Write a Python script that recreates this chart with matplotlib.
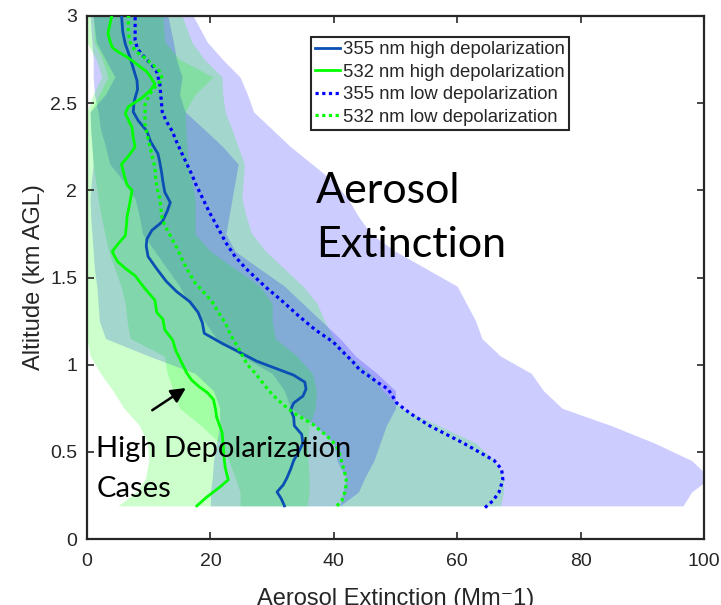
import numpy as np
import matplotlib.pyplot as plt

# altitude grid (km AGL) shared by the shaded ranges
alt_band = [0.19, 0.27, 0.35, 0.45, 0.55, 0.65, 0.75, 0.85, 0.95, 1.05, 1.15, 1.25, 1.35, 1.45,
            1.55, 1.65, 1.75, 1.85, 1.95, 2.05, 2.15, 2.25, 2.35, 2.45, 2.55, 2.65, 2.75, 2.85, 3.0]

# 355 nm low depolarization range
lo355_left = [41.0, 41.5, 42.0, 40.5, 40.0, 37.0, 33.0, 32.0, 30.0, 25.0, 21.0, 19.0, 16.5, 15.0,
              13.0, 11.0, 9.0, 8.5, 7.8, 6.0, 3.7, 3.0, 2.2, 1.8, 1.2, 1.0, 1.0, 0.8, 0.5]
lo355_right = [96.6, 98.0, 101.0, 98.0, 92.0, 85.0, 77.0, 74.0, 72.0, 67.0, 64.0, 63.0, 61.5, 60.0,
               55.0, 50.0, 46.0, 44.0, 42.3, 40.0, 36.5, 33.0, 30.0, 27.0, 26.0, 24.8, 22.0, 19.5, 17.2]
# 532 nm low depolarization range
lo532_left = [24.8, 24.8, 24.0, 23.0, 21.5, 18.5, 15.0, 14.0, 13.0, 12.5, 7.0, 6.5, 6.2, 5.5,
              4.5, 3.5, 2.9, 2.3, 1.8, 1.4, 1.0, 0.8, 0.6, 0.5, 2.0, 3.4, 2.5, 1.2, 1.0]
lo532_right = [67.0, 67.5, 67.5, 66.0, 63.0, 57.0, 51.0, 48.0, 46.0, 42.5, 40.0, 38.5, 37.3, 35.0,
               32.0, 29.0, 26.7, 25.8, 25.1, 25.3, 25.5, 24.5, 23.5, 22.4, 22.0, 21.9, 19.0, 17.0, 15.4]
# 355 nm high depolarization range
hi355_left = [20.0, 20.0, 20.3, 20.5, 21.0, 21.5, 21.5, 20.5, 17.5, 10.0, 3.0, 2.0, 1.8, 1.6,
              1.2, 1.0, 0.8, 0.6, 0.5, 0.7, 1.0, 0.8, 0.6, 0.5, 3.0, 4.5, 3.0, 1.5, 1.0]
hi355_right = [41.0, 44.0, 45.0, 46.5, 47.5, 48.5, 50.0, 50.0, 47.0, 43.5, 41.0, 38.0, 35.0, 32.0,
               28.0, 24.0, 22.5, 23.0, 23.5, 24.0, 24.5, 22.0, 19.0, 15.9, 15.0, 15.4, 14.5, 14.0, 13.1]
# 532 nm high depolarization range
hi532_left = [5.0, 8.0, 9.5, 10.0, 9.8, 8.5, 6.0, 4.2, 2.2, 0.5, 0.0, 0.0, 0.0, 0.0,
              0.0, 0.0, 0.0, 0.0, 0.0, 0.0, 0.0, 0.0, 0.0, 0.0, 1.0, 2.4, 1.5, 0.0, 0.0]
hi532_right = [35.7, 36.0, 36.0, 35.8, 35.7, 36.0, 37.0, 37.2, 36.5, 34.0, 30.5, 30.0, 30.0, 28.0,
               24.0, 20.0, 17.5, 17.5, 17.5, 17.0, 16.4, 16.2, 16.0, 15.9, 17.5, 20.4, 15.0, 12.6, 12.3]

# median profiles
alt_hi355 = [0.19, 0.23, 0.27, 0.31, 0.35, 0.40, 0.45, 0.50, 0.55, 0.60, 0.65, 0.70, 0.74, 0.78,
             0.82, 0.86, 0.90, 0.94, 0.98, 1.02, 1.07, 1.12, 1.18, 1.24, 1.30, 1.36, 1.42, 1.48,
             1.55, 1.62, 1.68, 1.72, 1.77, 1.82, 1.88, 1.93, 1.99, 2.05, 2.10, 2.16, 2.21, 2.28,
             2.34, 2.40, 2.45, 2.50, 2.53, 2.58, 2.63, 2.70, 2.76, 2.84, 2.91, 3.0]
ext_hi355 = [32.0, 31.5, 30.8, 31.8, 32.4, 33.0, 33.5, 34.3, 35.0, 34.8, 33.6, 33.5, 33.0, 33.5,
             35.0, 35.5, 35.3, 33.5, 30.5, 27.5, 24.8, 22.0, 19.0, 18.7, 18.0, 16.7, 14.5, 12.8,
             11.3, 9.9, 9.6, 9.7, 10.5, 12.2, 13.0, 13.5, 12.6, 12.3, 12.1, 11.8, 11.5, 10.3,
             9.7, 8.3, 7.5, 7.6, 7.8, 8.2, 8.1, 7.5, 7.0, 6.2, 5.8, 5.6]

alt_hi532 = [0.19, 0.24, 0.30, 0.34, 0.38, 0.41, 0.47, 0.53, 0.61, 0.70, 0.75, 0.80, 0.84, 0.87,
             0.91, 0.95, 1.00, 1.03, 1.08, 1.14, 1.20, 1.26, 1.30, 1.37, 1.44, 1.51, 1.55, 1.59,
             1.62, 1.65, 1.70, 1.74, 1.80, 1.85, 1.92, 2.00, 2.03, 2.09, 2.15, 2.20, 2.25, 2.30,
             2.36, 2.44, 2.48, 2.53, 2.57, 2.61, 2.65, 2.68, 2.72, 2.76, 2.80, 2.82, 2.86, 2.90,
             2.95, 3.0]
ext_hi532 = [17.8, 19.4, 21.6, 22.9, 22.6, 22.4, 22.2, 22.1, 21.9, 21.0, 20.8, 20.5, 19.5, 18.3,
             17.0, 16.2, 15.5, 15.1, 14.4, 13.9, 12.6, 12.3, 11.3, 11.0, 9.3, 7.8, 6.3, 5.0,
             4.5, 4.1, 5.2, 6.2, 6.4, 6.5, 6.9, 7.3, 6.5, 6.0, 5.6, 6.8, 7.8, 7.5,
             7.3, 6.2, 6.7, 8.9, 10.2, 11.0, 10.3, 9.7, 8.2, 6.7, 4.8, 4.1, 3.7, 3.4,
             3.7, 4.0]

alt_lo355 = [0.18, 0.22, 0.27, 0.34, 0.40, 0.45, 0.50, 0.55, 0.59, 0.65, 0.72, 0.78, 0.82, 0.86,
             0.90, 0.94, 0.97, 1.02, 1.09, 1.13, 1.20, 1.28, 1.36, 1.45, 1.55, 1.62, 1.70, 1.78,
             1.87, 1.95, 2.03, 2.09, 2.15, 2.21, 2.28, 2.34, 2.40, 2.45, 2.53, 2.61, 2.68, 2.72,
             2.76, 2.81, 2.86, 2.93, 3.0]
ext_lo355 = [64.5, 65.8, 66.8, 67.4, 67.2, 66.0, 63.5, 61.0, 58.8, 55.5, 52.4, 50.2, 49.5, 48.8,
             47.0, 45.5, 44.2, 43.0, 41.0, 39.9, 37.0, 34.3, 31.8, 28.8, 25.8, 24.0, 22.5, 21.3,
             19.9, 18.8, 17.7, 17.0, 16.2, 15.4, 14.5, 13.8, 12.8, 12.2, 12.0, 11.8, 11.3, 10.5,
             9.4, 8.2, 7.8, 7.8, 7.8]

alt_lo532 = [0.19, 0.22, 0.27, 0.31, 0.35, 0.40, 0.44, 0.48, 0.52, 0.56, 0.60, 0.66, 0.72, 0.77,
             0.83, 0.89, 0.95, 1.00, 1.05, 1.11, 1.17, 1.24, 1.30, 1.36, 1.42, 1.47, 1.53, 1.59,
             1.66, 1.72, 1.78, 1.83, 1.89, 1.95, 2.02, 2.08, 2.13, 2.19, 2.25, 2.31, 2.38, 2.44,
             2.49, 2.54, 2.58, 2.61, 2.64, 2.68, 2.71, 2.76, 2.80, 2.85, 2.90, 2.95, 3.0]
ext_lo532 = [40.5, 41.3, 41.8, 42.0, 42.0, 41.6, 41.3, 41.0, 40.6, 39.8, 38.6, 36.5, 33.6, 31.8,
             30.0, 28.6, 27.3, 26.0, 25.2, 24.3, 23.3, 22.4, 21.3, 20.3, 18.8, 17.5, 16.5, 15.6,
             14.7, 13.8, 12.9, 12.2, 12.0, 11.8, 11.3, 11.1, 11.0, 10.6, 10.2, 9.8, 9.4, 9.4,
             9.4, 10.0, 10.7, 11.5, 12.2, 11.8, 11.0, 9.4, 7.8, 7.0, 6.7, 6.7, 6.7]

blue = '#0000ff'
green = '#00ff00'
dark_blue = '#0a4fb4'
txt = '#262626'

plt.rcParams['font.family'] = ['Liberation Sans', 'DejaVu Sans']

fig = plt.figure(figsize=(7.21, 6.05), dpi=100)
ax = fig.add_axes([87 / 721, 1 - 539 / 605, 617 / 721, 523 / 605])

ax.fill_betweenx(alt_band, lo355_left, lo355_right, color=blue, alpha=0.2, lw=0, zorder=1)
ax.fill_betweenx(alt_band, lo532_left, lo532_right, color=green, alpha=0.2, lw=0, zorder=1)
ax.fill_betweenx(alt_band, hi355_left, hi355_right, color=blue, alpha=0.2, lw=0, zorder=1)
ax.fill_betweenx(alt_band, hi532_left, hi532_right, color=green, alpha=0.2, lw=0, zorder=1)

l1, = ax.plot(ext_hi355, alt_hi355, '-', color=dark_blue, lw=2.0, zorder=3)
l2, = ax.plot(ext_hi532, alt_hi532, '-', color=green, lw=2.0, zorder=3)
l3, = ax.plot(ext_lo355, alt_lo355, color=blue, lw=2.3, ls=(0, (1, 1.1)), zorder=3)
l4, = ax.plot(ext_lo532, alt_lo532, color=green, lw=2.3, ls=(0, (1, 1.1)), zorder=3)

ax.set_xlim(0, 100)
ax.set_ylim(0, 3)
ax.set_xticks(np.arange(0, 101, 20))
ax.set_yticks(np.arange(0, 3.01, 0.5))
ax.set_yticklabels(['0', '0.5', '1', '1.5', '2', '2.5', '3'])
ax.tick_params(direction='in', length=5, width=1.2, top=True, right=True,
               labelsize=14, colors=txt, pad=7)
ax.tick_params(axis='x', pad=10)
for s in ax.spines.values():
    s.set_linewidth(1.6)
    s.set_color(txt)

ax.set_xlabel('Aerosol Extinction (Mm\u207b1)', fontsize=17, color=txt, labelpad=13)
ax.set_ylabel('Altitude (km AGL)', fontsize=17, color=txt, labelpad=4)

leg = ax.legend([l1, l2, l3, l4],
                ['355 nm high depolarization', '532 nm high depolarization',
                 '355 nm low depolarization', '532 nm low depolarization'],
                loc='upper left', bbox_to_anchor=(311 / 721, 1 - 37 / 605),
                bbox_transform=fig.transFigure, borderaxespad=0, fontsize=13.3,
                handlelength=1.35, handletextpad=0.15, borderpad=0.22, labelspacing=0.3,
                fancybox=False, framealpha=1, edgecolor=txt)
leg.get_frame().set_linewidth(1.5)
for t in leg.get_texts():
    t.set_color(txt)

ax.text(37.1, 1.615, 'Aerosol\nExtinction', fontsize=31, family='Lato', color='black',
        va='baseline', ha='left', linespacing=1.52)
ax.text(1.5, 0.241, 'High Depolarization\nCases', fontsize=21, family='Lato', color='black',
        va='baseline', ha='left', linespacing=1.65)
ax.annotate('', xy=(16.4, 0.875), xytext=(10.2, 0.73),
            arrowprops=dict(arrowstyle='-|>', color='black', lw=1.8, mutation_scale=22))

fig.savefig('out.png', dpi=100)
